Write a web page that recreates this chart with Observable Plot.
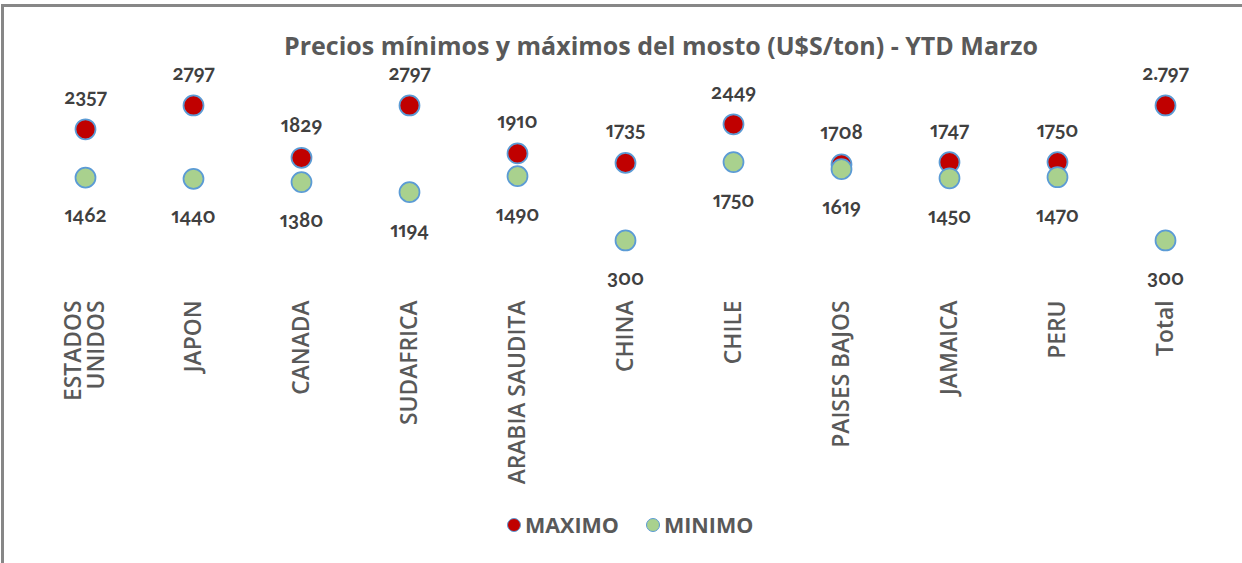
<!DOCTYPE html>
<html>
<head>
<meta charset="utf-8">
<script src="https://cdn.jsdelivr.net/npm/d3@7"></script>
<script src="https://cdn.jsdelivr.net/npm/@observablehq/plot@0.6"></script>
<style>
  html, body { margin: 0; padding: 0; background: #fff; }
  #wrap { position: relative; width: 1242px; height: 563px; overflow: hidden; background: #fff; font-family: "Open Sans", sans-serif; }
  #frame { position: absolute; left: 1px; top: 4px; width: 1300px; height: 700px; border-left: 3px solid #878787; border-top: 3px solid #878787; }
  #title { position: absolute; top: 28px; left: 80px; width: 1162px; text-align: center; font-size: 25px; font-weight: 700; color: #595959; white-space: nowrap; }
  #chart { position: absolute; left: 0; top: 0; }
  #legend { position: absolute; top: 510px; left: 507px; display: flex; font-size: 21.5px; font-weight: 700; color: #595959; }
  .item { display: flex; align-items: center; margin-right: 27px; }
  .sw { width: 12px; height: 12px; border-radius: 50%; border: 1.5px solid #5B9BD5; margin-right: 4px; }
</style>
</head>
<body>
<div id="wrap">
  <div id="frame"></div>
  <div id="title">Precios mínimos y máximos del mosto (U$S/ton) - YTD Marzo</div>
  <div id="chart"></div>
  <div id="legend"></div>
</div>
<script>
const categories = ["ESTADOS\nUNIDOS", "JAPON", "CANADA", "SUDAFRICA", "ARABIA SAUDITA", "CHINA", "CHILE", "PAISES BAJOS", "JAMAICA", "PERU", "Total"];
const maxValues = [2357, 2797, 1829, 2797, 1910, 1735, 2449, 1708, 1747, 1750, 2797];
const minValues = [1462, 1440, 1380, 1194, 1490, 300, 1750, 1619, 1450, 1470, 300];
const maxLabels = ["2357", "2797", "1829", "2797", "1910", "1735", "2449", "1708", "1747", "1750", "2.797"];
const minLabels = ["1462", "1440", "1380", "1194", "1490", "300", "1750", "1619", "1450", "1470", "300"];
const seriesNames = ["MAXIMO", "MINIMO"];
const seriesColors = ["#C00000", "#A9D18E"];

const data = categories.map((c, i) => ({
  cat: c, max: maxValues[i], min: minValues[i], maxLabel: maxLabels[i], minLabel: minLabels[i]
}));

const numFont = { fontFamily: "Lato", fontWeight: 700, fontSize: 20.5, fill: "#404040" };

const chart = Plot.plot({
  width: 1242,
  height: 500,
  marginTop: 0,
  marginBottom: 200,
  marginLeft: 0,
  marginRight: 0,
  style: { background: "transparent", overflow: "visible", fontFamily: "Open Sans" },
  x: { type: "point", domain: categories, range: [85, 1165], padding: 0, axis: null },
  y: { domain: [0, 3000], range: [256.2, 94], axis: null },
  marks: [
    Plot.dot(data, { x: "cat", y: "max", r: 10, fill: seriesColors[0], stroke: "#5B9BD5", strokeWidth: 1.75 }),
    Plot.dot(data, { x: "cat", y: "min", r: 10, fill: seriesColors[1], stroke: "#5B9BD5", strokeWidth: 1.75 }),
    Plot.text(data, { x: "cat", y: "max", text: "maxLabel", dy: -32, ...numFont }),
    Plot.text(data, { x: "cat", y: "min", text: "minLabel", dy: 38, ...numFont }),
    Plot.text(data, { x: "cat", text: "cat", frameAnchor: "bottom", rotate: -90, textAnchor: "end", lineAnchor: "middle", fontSize: 22.8, fontWeight: 600, fill: "#595959", fontFamily: "Open Sans" })
  ]
});
chart.querySelectorAll("g").forEach(g => { if (g.getAttribute("font-variant")) g.removeAttribute("font-variant"); });
chart.querySelectorAll("text").forEach(t => {
  if (/^[\d.]+$/.test(t.textContent)) {
    t.removeAttribute("font-variant");
    t.style.fontVariantNumeric = "oldstyle-nums proportional-nums";
    t.style.fontFeatureSettings = '"onum" 1, "pnum" 1';
  }
});
document.getElementById("chart").appendChild(chart);

const legend = document.getElementById("legend");
seriesNames.forEach((name, i) => {
  const item = document.createElement("div");
  item.className = "item";
  const sw = document.createElement("span");
  sw.className = "sw";
  sw.style.background = seriesColors[i];
  const label = document.createElement("span");
  label.textContent = name;
  item.appendChild(sw);
  item.appendChild(label);
  legend.appendChild(item);
});
</script>
</body>
</html>
